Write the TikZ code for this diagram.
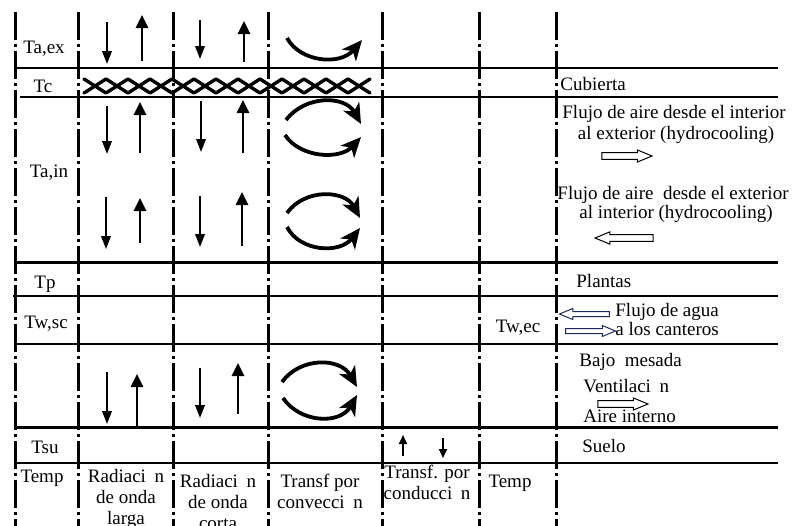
\documentclass[tikz,border=0pt]{standalone}
\usepackage{fontspec}
\setmainfont{Liberation Serif}
\usetikzlibrary{arrows.meta,shapes.arrows}

\begin{document}
\begin{tikzpicture}[
    x=0.5pt, y=-0.5pt,
    divider/.style={
        line width=1.5pt,
        dash pattern=on 14pt off 2pt on 1.5pt off 2pt
    },
    txt/.style={
        font=\fontsize{9.5}{10.5}\selectfont,
        inner sep=0pt,
        anchor=base
    },
    lefttxt/.style={txt, anchor=base west},
    coltxt/.style={txt, align=center, anchor=north},
    rayin/.style={line width=0.85pt, -{Triangle[length=6.5pt,width=4.8pt]}},
    rayout/.style={line width=1.4pt, -{Triangle[length=6.5pt,width=6pt]}},
    conduct/.style={line width=1pt, -{Triangle[length=4.5pt,width=4pt]}},
    convect/.style={line width=1.9pt, -{Stealth[length=10pt,width=9pt,inset=2.8pt]}},
    cover/.style={line width=1.7pt, line join=round, line cap=round},
    hollow/.style={
        single arrow,
        draw,
        line width=0.5pt,
        inner sep=1.4pt,
        minimum height=25pt,
        single arrow head extend=1.4pt,
        single arrow tip angle=45
    },
    waterline/.style={
        draw={rgb,255:red,31;green,40;blue,90},
        inner sep=1pt,
        single arrow head extend=1.5pt
    }
]
\useasboundingbox (0,0) rectangle (796,525);

% --- Column dividers ---
\foreach \xv in {15,78,173,268,382,479,556}
    \draw[divider] (\xv,12) -- (\xv,530);

% --- Layer rules ---
\foreach \ya/\xa/\lw in {68/15/1pt, 97/20/1pt, 262/15/1.5pt, 296/13/1pt, 344/15/1pt, 427/15/1.5pt, 463/15/1pt}
    \draw[line width=\lw] (\xa,\ya) -- (778,\ya);

% --- Cover (Tc) ---
\draw[cover] (84,79) \foreach \i in {1,...,13} { -- ({84+22*\i},{86-7*cos(180*\i)}) };
\draw[cover] (84,93) \foreach \i in {1,...,13} { -- ({84+22*\i},{86+7*cos(180*\i)}) };

% --- Layer names ---
\node[txt] (taex) at (44,53) {Ta,ex};
\node[txt] (tc) at (43,92) {Tc};
\node[txt] (tain) at (49,177) {Ta,in};
\node[txt] (tp) at (45,288) {Tp};
\node[txt] (twsc) at (46,328) {Tw,sc};
\node[txt] (tsu) at (45,453) {Tsu};
\node[txt] (tempa) at (42,482) {Temp};
\node[txt] (twec) at (518,332) {Tw,ec};
\node[txt] (tempb) at (510,487) {Temp};

% --- Column captions ---
\node[coltxt] (longwave) at (126,469) {Radiaci\hspace{0.45em}n\\de onda\\larga};
\node[coltxt] (shortwave) at (218,474) {Radiaci\hspace{0.45em}n\\de onda\\corta};
\node[coltxt] (convection) at (320,474) {Transf por\\convecci\hspace{0.45em}n};
\node[coltxt] (conduction) at (427,465) {Transf. por\\conducci\hspace{0.45em}n};

% --- Right-hand notes ---
\node[lefttxt] (cubierta) at (560,90) {Cubierta};
\node[txt] (outa) at (674,118) {Flujo de aire desde el interior};
\node[txt] (outb) at (676,139) {al exterior (hydrocooling)};
\node[hollow] (outflow) at (623,156) {};
\node[txt] (ina) at (673,199) {Flujo de aire\ \ desde el exterior};
\node[txt] (inb) at (676,218) {al interior (hydrocooling)};
\node[hollow, shape border rotate=180, minimum height=29pt] (inflow) at (628,238) {};
\node[lefttxt] (plantas) at (576,287) {Plantas};
\node[hollow, waterline, shape border rotate=180] (waterback) at (587.5,314) {};
\node[hollow, waterline] (waterto) at (587.5,331) {};
\node[lefttxt] (aguaa) at (615,316) {Flujo de agua};
\node[lefttxt] (aguab) at (615,335) {a los canteros};
\node[lefttxt] (bajo) at (579,366) {Bajo\ \ mesada};
\node[lefttxt] (vent) at (583,392) {Ventilaci\hspace{0.45em}n};
\node[hollow] (ventflow) at (619,404) {};
\node[lefttxt] (aire) at (583,422) {Aire interno};
\node[lefttxt] (suelo) at (582,452) {Suelo};

% --- Long-wave radiation ---
\draw[rayin] (107,22) -- (107,64);
\draw[rayout] (142,61) -- (142,15);
\draw[rayin] (107,106) -- (107,154);
\draw[rayout] (140,153) -- (140,102);
\draw[rayin] (106,197) -- (106,249);
\draw[rayout] (140,243) -- (140,198);
\draw[rayin] (107,372) -- (107,424);
\draw[rayout] (137,426) -- (137,374);

% --- Short-wave radiation ---
\draw[rayin] (200,20) -- (200,59);
\draw[rayout] (244,62) -- (244,21);
\draw[rayin] (201,101) -- (201,152);
\draw[rayout] (243,153) -- (243,100);
\draw[rayin] (200,196) -- (200,247);
\draw[rayout] (242,246) -- (242,192);
\draw[rayin] (200,368) -- (200,418);
\draw[rayout] (238,414) -- (238,363);

% --- Convection ---
\draw[convect] (287,38) .. controls (300,62) and (340,66) .. (362,40);
\draw[convect] (286,120) .. controls (305,95) and (345,95) .. (361,124);
\draw[convect] (285,135) .. controls (300,158) and (340,160) .. (361,137);
\draw[convect] (287,213) .. controls (305,188) and (345,190) .. (360,218);
\draw[convect] (287,227) .. controls (300,252) and (340,254) .. (360,228);
\draw[convect] (282,382) .. controls (300,357) and (340,357) .. (357,387);
\draw[convect] (283,398) .. controls (300,423) and (340,425) .. (357,395);

% --- Conduction ---
\draw[conduct] (403,456) -- (403,435);
\draw[conduct] (443,438) -- (443,458);

\end{tikzpicture}
\end{document}
